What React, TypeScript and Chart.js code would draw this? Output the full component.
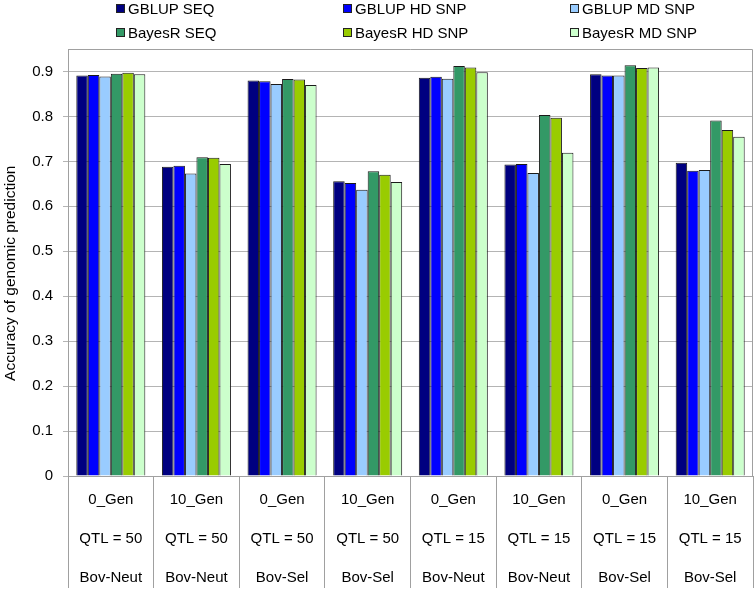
import React, { useEffect, useRef } from "react";
import { Chart, registerables } from "chart.js";

Chart.register(...registerables);

const categories: string[][] = [
  ["0_Gen", "QTL = 50", "Bov-Neut"],
  ["10_Gen", "QTL = 50", "Bov-Neut"],
  ["0_Gen", "QTL = 50", "Bov-Sel"],
  ["10_Gen", "QTL = 50", "Bov-Sel"],
  ["0_Gen", "QTL = 15", "Bov-Neut"],
  ["10_Gen", "QTL = 15", "Bov-Neut"],
  ["0_Gen", "QTL = 15", "Bov-Sel"],
  ["10_Gen", "QTL = 15", "Bov-Sel"],
];

const seriesNames = [
  "GBLUP SEQ",
  "GBLUP HD SNP",
  "GBLUP MD SNP",
  "BayesR SEQ",
  "BayesR HD SNP",
  "BayesR MD SNP",
];

const gblupSeq = [0.891, 0.688, 0.88, 0.656, 0.886, 0.693, 0.894, 0.697];
const gblupHd = [0.892, 0.69, 0.878, 0.652, 0.888, 0.694, 0.891, 0.679];
const gblupMd = [0.889, 0.673, 0.872, 0.637, 0.884, 0.674, 0.891, 0.681];
const bayesSeq = [0.895, 0.709, 0.883, 0.678, 0.912, 0.803, 0.914, 0.791];
const bayesHd = [0.897, 0.708, 0.882, 0.67, 0.909, 0.797, 0.908, 0.77];
const bayesMd = [0.894, 0.694, 0.87, 0.654, 0.898, 0.719, 0.909, 0.755];

const seriesValues = [gblupSeq, gblupHd, gblupMd, bayesSeq, bayesHd, bayesMd];
const seriesColors = ["#000080", "#0000FF", "#99CCFF", "#339966", "#99CC00", "#CCFFCC"];

const yTickValues = [0, 0.1, 0.2, 0.3, 0.4, 0.5, 0.6, 0.7, 0.8, 0.9];
const yMax = 0.95;
const yTitle = "Accuracy of genomic prediction";

const FONT = "'Liberation Sans', Arial, Helvetica, sans-serif";

const frame = {
  id: "frame",
  beforeDatasetsDraw(chart: any) {
    const { ctx, chartArea } = chart;
    ctx.save();
    ctx.strokeStyle = "#a0a0a0";
    ctx.lineWidth = 1;
    ctx.beginPath();
    ctx.moveTo(chartArea.left, chartArea.top + 0.5);
    ctx.lineTo(chartArea.right - 0.5, chartArea.top + 0.5);
    ctx.lineTo(chartArea.right - 0.5, chartArea.bottom);
    ctx.stroke();
    ctx.restore();
  },
};

export default function App() {
  const ref = useRef<HTMLCanvasElement | null>(null);

  useEffect(() => {
    if (!ref.current) return;
    const chart = new Chart(ref.current, {
      type: "bar",
      data: {
        labels: categories,
        datasets: seriesNames.map((name, i) => ({
          label: name,
          data: seriesValues[i],
          backgroundColor: seriesColors[i],
          borderColor: "#1a1a1a",
          borderWidth: 1,
          categoryPercentage: 0.806,
          barPercentage: 1.0,
        })),
      },
      options: {
        animation: false,
        responsive: false,
        maintainAspectRatio: false,
        layout: { padding: { left: 0, right: 3, top: 49, bottom: 0 } },
        plugins: {
          legend: { display: false },
          tooltip: { enabled: false },
        },
        scales: {
          x: {
            grid: {
              offset: true,
              drawOnChartArea: false,
              drawTicks: true,
              tickLength: 112,
              color: "#a0a0a0",
            },
            border: { color: "#a0a0a0" },
            ticks: {
              color: "#000",
              padding: -107,
              maxRotation: 0,
              autoSkip: false,
              font: { family: FONT, size: 15, lineHeight: 2.57 },
            },
            afterFit: (scale: any) => {
              scale.height = 116;
            },
          },
          y: {
            min: 0,
            max: yMax,
            afterBuildTicks: (scale: any) => {
              scale.ticks = yTickValues.map((v) => ({ value: v }));
            },
            grid: {
              color: "#b4b4b4",
              tickLength: 5,
            },
            border: { color: "#a0a0a0" },
            ticks: {
              color: "#000",
              padding: 10,
              font: { family: FONT, size: 15 },
              callback: (v: any) => String(Math.round(Number(v) * 10) / 10),
            },
            title: {
              display: true,
              text: yTitle + "     ",
              color: "#000",
              padding: { top: 1, bottom: 0 },
              font: { family: FONT, size: 15.5, lineHeight: 1.2 },
            },
            afterFit: (scale: any) => {
              scale.width = 68;
            },
          },
        },
      },
      plugins: [frame],
    });
    return () => chart.destroy();
  }, []);

  const colLeft = [116, 343, 570];
  const rowTop = [8, 32];

  return (
    <div
      style={{
        position: "absolute",
        left: 0,
        top: 0,
        width: 756,
        height: 592,
        background: "#fff",
        fontFamily: FONT,
      }}
    >
      <canvas ref={ref} width={756} height={592} style={{ position: "absolute", left: 0, top: 0 }} />
      {seriesNames.map((name, i) => {
        const col = i % 3;
        const row = Math.floor(i / 3);
        return (
          <div
            key={name}
            style={{
              position: "absolute",
              left: colLeft[col],
              top: rowTop[row] - 9,
              height: 18,
              display: "flex",
              alignItems: "center",
              fontSize: 15,
              color: "#000",
              whiteSpace: "nowrap",
            }}
          >
            <span
              style={{
                display: "inline-block",
                width: 7,
                height: 7,
                border: "1px solid #222",
                background: seriesColors[i],
                marginRight: 3,
              }}
            />
            <span>{name}</span>
          </div>
        );
      })}
    </div>
  );
}
